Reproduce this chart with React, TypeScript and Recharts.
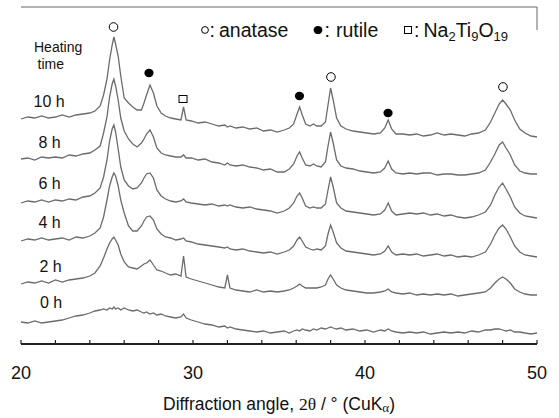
import React from 'react';
import { ComposedChart, Line, Scatter, XAxis, YAxis, ReferenceLine } from 'recharts';

// diffraction angle 2θ (deg), shared by all patterns
const ANGLE = [
  20.0, 20.4, 20.8, 21.2, 21.6, 22.0, 22.4, 22.8, 23.2, 23.6,
  24.0, 24.3, 24.6, 24.8, 25.0, 25.15, 25.3, 25.4, 25.5, 25.65,
  25.8, 26.0, 26.25, 26.5, 26.75, 27.0, 27.15, 27.3, 27.5, 27.7,
  27.9, 28.15, 28.4, 28.7, 29.0, 29.3, 29.45, 29.6, 29.9, 30.3,
  30.7, 31.1, 31.5, 31.85, 32.0, 32.15, 32.5, 32.9, 33.3, 33.7,
  34.1, 34.5, 34.9, 35.3, 35.6, 35.85, 36.05, 36.2, 36.35, 36.55,
  36.8, 37.0, 37.2, 37.45, 37.7, 37.85, 38.0, 38.15, 38.35, 38.6,
  38.9, 39.3, 39.7, 40.1, 40.5, 40.9, 41.15, 41.35, 41.55, 41.8,
  42.2, 42.6, 43.0, 43.4, 43.8, 44.2, 44.6, 45.0, 45.4, 45.8,
  46.2, 46.6, 47.0, 47.3, 47.55, 47.8, 48.0, 48.2, 48.45, 48.7,
  49.0, 49.3, 49.65, 50.0,
];

// intensities (a.u., already offset for stacking)
const H10 = [
  225, 227, 226, 228, 226, 227, 229, 227, 229, 230,
  231, 233, 238, 249, 265, 284, 299, 307, 300, 288,
  268, 246, 241, 237, 234, 234, 241, 249, 259, 251,
  238, 231, 228, 226, 225, 224, 237, 224, 223, 221,
  222, 220, 218, 219, 217, 218, 216, 217, 215, 216,
  213, 214, 212, 214, 216, 220, 230, 237, 229, 220,
  218, 220, 218, 218, 222, 239, 256, 244, 226, 218,
  215, 213, 212, 211, 210, 211, 216, 224, 215, 210,
  210, 209, 210, 208, 209, 211, 209, 210, 209, 208,
  210, 211, 214, 222, 231, 240, 244, 240, 234, 224,
  215, 211, 208, 207,
];
const H8 = [
  185, 186, 184, 187, 186, 187, 186, 189, 188, 190,
  191, 194, 198, 211, 227, 247, 260, 265, 258, 244,
  226, 213, 205, 200, 197, 201, 205, 210, 214, 207,
  196, 191, 189, 188, 187, 187, 189, 186, 186, 184,
  185, 182, 181, 179, 181, 179, 178, 179, 177, 176,
  174, 175, 172, 172, 175, 180, 188, 192, 186, 179,
  178, 180, 178, 177, 182, 198, 212, 201, 184, 178,
  176, 175, 173, 172, 171, 172, 176, 183, 175, 171,
  170, 171, 170, 171, 171, 169, 170, 170, 169, 169,
  170, 171, 174, 182, 190, 199, 202, 196, 189, 179,
  173, 171, 170, 170,
];
const H6 = [
  141, 143, 142, 144, 142, 144, 143, 145, 144, 147,
  148, 151, 156, 167, 184, 203, 215, 219, 212, 195,
  177, 164, 158, 155, 156, 161, 166, 170, 171, 166,
  154, 148, 145, 143, 142, 143, 145, 142, 141, 140,
  139, 140, 138, 139, 138, 139, 137, 136, 137, 135,
  134, 133, 131, 133, 136, 141, 148, 151, 146, 138,
  136, 137, 136, 136, 140, 154, 167, 157, 141, 136,
  133, 132, 131, 130, 129, 130, 134, 141, 133, 129,
  130, 131, 130, 131, 129, 130, 128, 129, 127, 126,
  127, 129, 132, 139, 149, 157, 161, 155, 147, 137,
  131, 128, 127, 126,
];
const H4 = [
  103, 105, 104, 106, 104, 105, 106, 104, 107, 106,
  108, 111, 116, 127, 144, 158, 167, 171, 168, 158,
  144, 131, 118, 113, 113, 118, 123, 127, 128, 124,
  115, 110, 107, 106, 104, 105, 106, 103, 102, 100,
  99, 98, 97, 96, 97, 95, 94, 95, 93, 92,
  91, 92, 90, 92, 94, 98, 104, 107, 103, 97,
  95, 94, 95, 94, 98, 110, 119, 112, 101, 96,
  93, 92, 91, 90, 89, 90, 93, 98, 92, 89,
  90, 89, 90, 88, 89, 90, 88, 89, 87, 88,
  87, 89, 92, 100, 109, 116, 119, 115, 107, 98,
  92, 89, 88, 87,
];
const H2 = [
  60, 62, 61, 63, 61, 64, 62, 64, 65, 66,
  68, 71, 78, 86, 95, 101, 105, 107, 104, 99,
  90, 82, 77, 76, 75, 78, 80, 81, 84, 79,
  74, 73, 71, 69, 70, 68, 88, 67, 65, 63,
  61, 59, 57, 56, 69, 56, 54, 53, 52, 54,
  52, 53, 52, 53, 54, 56, 58, 60, 58, 56,
  56, 56, 56, 57, 59, 65, 69, 65, 59, 56,
  54, 53, 52, 51, 51, 52, 53, 55, 52, 51,
  50, 51, 49, 50, 49, 50, 49, 50, 48, 49,
  50, 51, 52, 56, 61, 65, 67, 65, 61, 55,
  52, 50, 49, 49,
];
const H0 = [
  22, 21, 23, 21, 22, 23, 24, 26, 28, 29,
  31, 33, 34, 35, 34, 36, 35, 37, 35, 36,
  34, 36, 34, 33, 34, 32, 31, 32, 30, 31,
  29, 30, 28, 27, 26, 27, 30, 26, 24, 22,
  20, 19, 17, 18, 16, 17, 15, 14, 13, 12,
  13, 11, 12, 13, 11, 13, 14, 13, 15, 14,
  13, 15, 14, 16, 15, 16, 17, 16, 15, 16,
  14, 15, 13, 14, 12, 14, 13, 15, 13, 12,
  11, 12, 11, 12, 10, 11, 12, 11, 12, 11,
  13, 12, 14, 14, 15, 15, 14, 13, 14, 12,
  12, 11, 10, 11,
];

const TIME_LABELS = ['0 h', '2 h', '4 h', '6 h', '8 h', '10 h'];

// peak markers over the 10 h pattern
const MARK_ANGLE = [25.38, 27.44, 29.42, 36.19, 38.02, 41.34, 48.02];
const MARK_HEIGHT = [317, 271, 245, 248, 267, 231, 257];
const MARK_PHASE = ['anatase', 'rutile', 'nto', 'rutile', 'anatase', 'rutile', 'anatase'];

const X_TICKS = [20, 22, 24, 26, 28, 30, 32, 34, 36, 38, 40, 42, 44, 46, 48, 50];

const rows = ANGLE.map((a, i) => ({
  angle: a,
  h0: H0[i],
  h2: H2[i],
  h4: H4[i],
  h6: H6[i],
  h8: H8[i],
  h10: H10[i],
}));

const marks = MARK_ANGLE.map((a, i) => ({ angle: a, height: MARK_HEIGHT[i], phase: MARK_PHASE[i] }));

const SANS = "'Liberation Sans', Arial, Helvetica, sans-serif";
const SERIF = "'Liberation Serif', 'Times New Roman', serif";
const TRACE = '#6b6b6b';

const PhaseMark = (props: any) => {
  const { cx, cy, payload } = props;
  if (payload.phase === 'rutile') return <ellipse cx={cx} cy={cy} rx={4.6} ry={4.2} fill="#000" />;
  if (payload.phase === 'nto')
    return <rect x={cx - 4} y={cy - 3.5} width={8} height={7} fill="#fff" stroke="#000" strokeWidth={1} />;
  return <circle cx={cx} cy={cy} r={4.3} fill="#fff" stroke="#000" strokeWidth={1} />;
};

const AngleTick = (props: any) => {
  const { x, y, payload } = props;
  const v = payload.value;
  return (
    <g>
      <line x1={x} y1={y} x2={x} y2={y - 4} stroke="#222" strokeWidth={1.2} />
      {v % 10 === 0 && (
        <text x={x} y={y + 35} textAnchor="middle" fontSize={18} fill="#111" fontFamily={SANS}>
          {v}
        </text>
      )}
    </g>
  );
};

// label placement (x, baseline) for each pattern, same order as TIME_LABELS
const LABEL_POS = [
  [40, 308],
  [39.5, 272],
  [38.5, 227.5],
  [38.5, 189],
  [38.5, 147.5],
  [33.5, 107],
];

export default function App() {
  return (
    <div style={{ position: 'absolute', left: 0, top: 0, width: 559, height: 418, background: '#fff' }}>
      <ComposedChart width={559} height={418} data={rows} margin={{ top: 7, right: 22, bottom: 0, left: 21 }}>
        <XAxis
          dataKey="angle"
          type="number"
          domain={[20, 50]}
          ticks={X_TICKS}
          interval={0}
          tickSize={0}
          tickMargin={0}
          tickLine={false}
          tick={AngleTick}
          height={74}
          axisLine={{ stroke: '#222', strokeWidth: 2 }}
        />
        <YAxis
          type="number"
          domain={[0, 337]}
          width={0}
          tick={false}
          tickLine={false}
          axisLine={{ stroke: '#555', strokeWidth: 1.5 }}
        />
        <ReferenceLine y={337} stroke="#666" strokeWidth={1} />
        <ReferenceLine segment={[{ x: 50, y: 337 }, { x: 50, y: 314 }]} stroke="#666" strokeWidth={1} />
        <Line dataKey="h0" type="linear" stroke={TRACE} strokeWidth={1.3} dot={false} isAnimationActive={false} />
        <Line dataKey="h2" type="linear" stroke={TRACE} strokeWidth={1.3} dot={false} isAnimationActive={false} />
        <Line dataKey="h4" type="linear" stroke={TRACE} strokeWidth={1.3} dot={false} isAnimationActive={false} />
        <Line dataKey="h6" type="linear" stroke={TRACE} strokeWidth={1.3} dot={false} isAnimationActive={false} />
        <Line dataKey="h8" type="linear" stroke={TRACE} strokeWidth={1.3} dot={false} isAnimationActive={false} />
        <Line dataKey="h10" type="linear" stroke={TRACE} strokeWidth={1.3} dot={false} isAnimationActive={false} />
        <Scatter data={marks} dataKey="height" shape={PhaseMark} isAnimationActive={false} />
      </ComposedChart>

      <svg
        width={559}
        height={418}
        style={{ position: 'absolute', left: 0, top: 0, pointerEvents: 'none' }}
        fontFamily={SANS}
      >
        {/* legend */}
        <circle cx={205} cy={30} r={3.4} fill="none" stroke="#000" strokeWidth={1} />
        <text x={209.5} y={36.5} fontSize={19.5} fill="#111">:</text>
        <text x={219} y={36.5} fontSize={19.5} fill="#111">anatase</text>
        <ellipse cx={318} cy={30} rx={4.4} ry={4.1} fill="#000" />
        <text x={324.5} y={36.5} fontSize={19.5} fill="#111">:</text>
        <text x={336} y={36.5} fontSize={19.5} fill="#111">rutile</text>
        <rect x={404.5} y={26.5} width={7} height={7} fill="none" stroke="#000" strokeWidth={1} />
        <text x={414} y={36.5} fontSize={19.5} fill="#111">:</text>
        <text x={423.5} y={36.5} fontSize={19.5} fill="#111">
          Na<tspan fontSize={13} dy={4}>2</tspan>
          <tspan dy={-4}>Ti</tspan>
          <tspan fontSize={13} dy={4}>9</tspan>
          <tspan dy={-4}>O</tspan>
          <tspan fontSize={13} dy={4}>19</tspan>
        </text>

        {/* heating time labels */}
        <text x={34} y={52} fontSize={14} fill="#111">Heating</text>
        <text x={37.5} y={69} fontSize={14} fill="#111">time</text>
        {TIME_LABELS.map((t, i) => (
          <text key={t} x={LABEL_POS[i][0]} y={LABEL_POS[i][1]} fontSize={16} fill="#111">
            {t}
          </text>
        ))}

        {/* axis title */}
        <text x={279} y={410} textAnchor="middle" fontSize={17.5} fill="#111">
          Diffraction angle, <tspan fontFamily={SERIF}>2θ</tspan> / ° (CuK
          <tspan fontFamily={SERIF} fontSize={13} dy={2}>α</tspan>
          <tspan dy={-2}>)</tspan>
        </text>
      </svg>
    </div>
  );
}
